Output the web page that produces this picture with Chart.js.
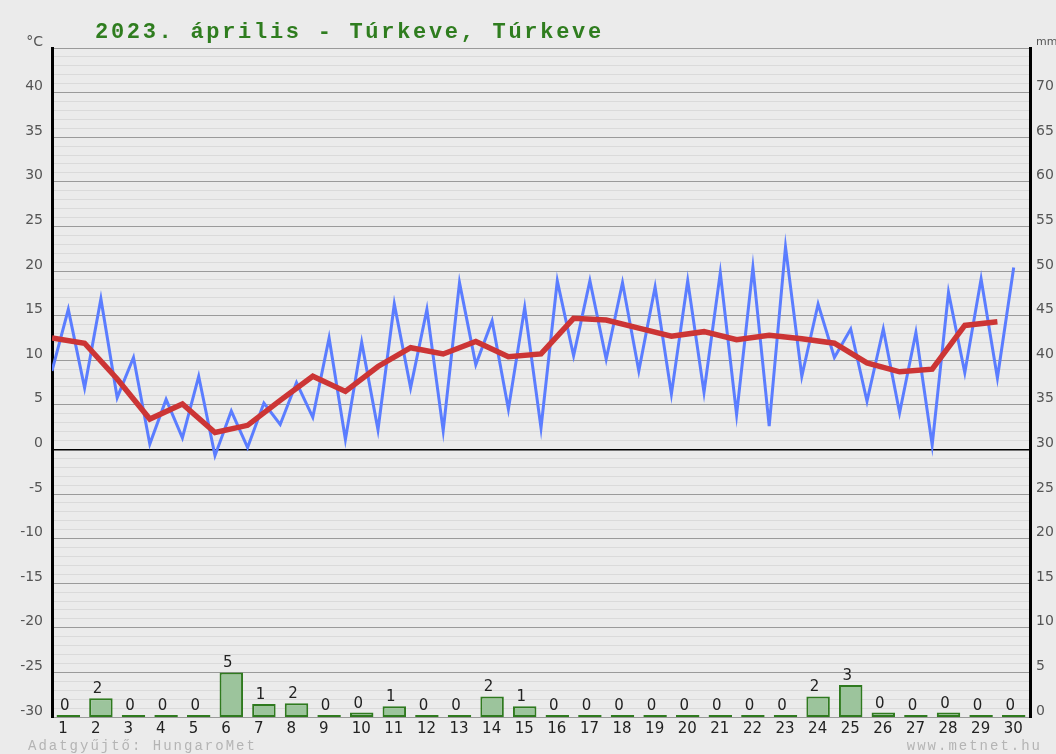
<!DOCTYPE html>
<html>
<head>
<meta charset="utf-8">
<script src="https://cdn.jsdelivr.net/npm/chart.js@4"></script>
<style>
    body { margin: 0; background: #ebebeb; }
    #wrap { width: 1056px; height: 754px; position: relative; }
</style>
</head>
<body>
<div id="wrap"><canvas id="tempChart"></canvas></div>
<script>
// Chart.js defaults
Chart.defaults.font.family = "'DejaVu Sans', sans-serif";
Chart.defaults.color = '#555';
Chart.defaults.animation = false;

// Data (Túrkeve)
const days = ['1', '2', '3', '4', '5', '6', '7', '8', '9', '10',
    '11', '12', '13', '14', '15', '16', '17', '18', '19', '20',
    '21', '22', '23', '24', '25', '26', '27', '28', '29', '30'];

// daily minimum / maximum temperature (°C)
const tempMin = [8.8, 6.9, 5.8, 0.6, 1.3, -0.7, 0.2, 2.8, 3.6, 1.1,
    2.2, 6.9, 2.1, 9.5, 4.5, 2.4, 10.5, 10.1, 8.8, 6.2,
    6.4, 3.9, 2.6, 8.2, 10.3, 5.4, 4.1, 0.5, 8.6, 8.0];
const tempMax = [15.7, 16.9, 10.3, 5.6, 8.2, 4.3, 5.2, 7.5, 12.5, 12.0,
    16.3, 15.7, 18.7, 14.4, 15.9, 18.9, 18.9, 18.7, 18.2, 18.9,
    19.8, 20.4, 22.7, 16.3, 13.5, 13.5, 13.1, 17.6, 19.1, 20.4];

// daily mean temperature (°C)
const tempMean = [12.5, 11.9, 7.9, 3.4, 5.1, 1.9, 2.7, 5.5, 8.2, 6.5,
    9.3, 11.4, 10.7, 12.1, 10.4, 10.7, 14.7, 14.5, 13.6, 12.7,
    13.2, 12.3, 12.8, 12.4, 11.9, 9.7, 8.7, 9.0, 13.9, 14.3];

// precipitation (mm) and the rounded values printed above the bars
const precip = [0, 2.1, 0, 0, 0, 5.0, 1.45, 1.55, 0, 0.5,
    1.2, 0, 0, 2.3, 1.2, 0, 0, 0, 0, 0,
    0, 0, 0, 2.3, 3.6, 0.5, 0, 0.5, 0, 0];
const precipLabels = [0, 2, 0, 0, 0, 5, 1, 2, 0, 0,
    1, 0, 0, 2, 1, 0, 0, 0, 0, 0,
    0, 0, 0, 2, 3, 0, 0, 0, 0, 0];

const titleText = '2023. április - Túrkeve, Túrkeve';
const sourceText = 'Adatgyűjtő: HungaroMet';
const siteText = 'www.metnet.hu';

// min at the start of the day, max at midday
const minMaxPoints = [];
days.forEach((d, i) => {
    minMaxPoints.push({ x: i + 0.5, y: tempMin[i] });
    minMaxPoints.push({ x: i + 1, y: tempMax[i] });
});
const meanPoints = tempMean.map((v, i) => ({ x: i + 0.5, y: v }));

// Title, footer and bar value labels
const textPlugin = {
    id: 'textPlugin',
    afterDatasetsDraw(chart) {
        const ctx = chart.ctx;
        ctx.save();
        ctx.letterSpacing = '2.7px';
        ctx.font = "bold 22px 'Liberation Mono', monospace";
        ctx.fillStyle = '#2f7d1f';
        ctx.textAlign = 'left';
        ctx.textBaseline = 'alphabetic';
        ctx.fillText(titleText, 95, 38);

        ctx.letterSpacing = '2px';
        ctx.font = "14px 'Liberation Mono', monospace";
        ctx.fillStyle = '#b4b4b4';
        ctx.fillText(sourceText, 28, 750);
        ctx.textAlign = 'right';
        ctx.fillText(siteText, 1042, 750);

        ctx.letterSpacing = '0px';
        ctx.font = "15px 'DejaVu Sans', sans-serif";
        ctx.fillStyle = '#222';
        ctx.textAlign = 'center';
        const meta = chart.getDatasetMeta(2);
        meta.data.forEach((bar, i) => {
            ctx.fillText(String(precipLabels[i]), bar.x - 3.5, bar.y - 5);
        });
        ctx.restore();
    }
};

const ctx = document.getElementById('tempChart').getContext('2d');
const tempChart = new Chart(ctx, {
    type: 'bar',
    data: {
        labels: days,
        datasets: [
            {
                type: 'line',
                label: 'Középhőmérséklet',
                data: meanPoints,
                xAxisID: 'xl',
                yAxisID: 'y',
                borderColor: '#cc3535',
                borderWidth: 5.5,
                pointRadius: 0,
                tension: 0,
                order: 0
            },
            {
                type: 'line',
                label: 'Min / max',
                data: minMaxPoints,
                xAxisID: 'xl',
                yAxisID: 'y',
                borderColor: '#5b7dff',
                borderWidth: 3,
                pointRadius: 0,
                tension: 0,
                order: 1
            },
            {
                type: 'bar',
                label: 'Csapadék',
                data: precip,
                xAxisID: 'x',
                yAxisID: 'y2',
                backgroundColor: '#9cc49c',
                borderColor: '#2f7a1f',
                borderWidth: 2,
                borderSkipped: false,
                minBarLength: 2,
                grouped: false,
                barPercentage: 0.72,
                categoryPercentage: 1,
                order: 2
            }
        ]
    },
    options: {
        responsive: true,
        maintainAspectRatio: false,
        layout: { padding: { top: 48, left: 0, right: 0, bottom: 0 } },
        plugins: {
            legend: { display: false },
            tooltip: { enabled: false },
            title: { display: false }
        },
        scales: {
            x: {
                type: 'category',
                offset: true,
                grid: { display: false, drawTicks: false },
                border: { display: false },
                ticks: {
                    color: '#222',
                    font: { size: 15 },
                    padding: 3,
                    align: 'start',
                    labelOffset: -10,
                    maxRotation: 0,
                    autoSkip: false
                },
                afterFit: (scale) => { scale.height = 37; }
            },
            xl: {
                type: 'linear',
                display: false,
                offset: false,
                min: 0.5,
                max: 30.5
            },
            y: {
                position: 'left',
                min: -30,
                max: 45,
                grid: {
                    drawTicks: false,
                    color: (c) => {
                        const v = c.tick.value;
                        if (v === 0) return '#000';
                        return v % 5 === 0 ? '#9a9a9a' : '#dadada';
                    },
                    lineWidth: (c) => (c.tick.value === 0 ? 1.5 : 1)
                },
                border: { display: true, color: '#000', width: 3 },
                ticks: {
                    stepSize: 1,
                    autoSkip: false,
                    maxTicksLimit: 100,
                    padding: 9,
                    labelOffset: -6,
                    color: '#555',
                    font: { size: 14 },
                    callback: (v) => {
                        if (v === 45) return '°C';
                        return v % 5 === 0 ? String(v) : '';
                    }
                },
                afterFit: (scale) => { scale.width = 52; }
            },
            y2: {
                position: 'right',
                min: 0,
                max: 75,
                grid: { display: false, drawTicks: false },
                border: { display: true, color: '#000', width: 3 },
                ticks: {
                    stepSize: 5,
                    autoSkip: false,
                    padding: 6,
                    labelOffset: -6,
                    color: '#555',
                    font: (c) => ({ size: c.tick && c.tick.value === 75 ? 11 : 14 }),
                    callback: (v) => (v === 75 ? 'mm' : String(v))
                },
                afterFit: (scale) => { scale.width = 26; }
            }
        }
    },
    plugins: [textPlugin]
});
</script>
</body>
</html>
